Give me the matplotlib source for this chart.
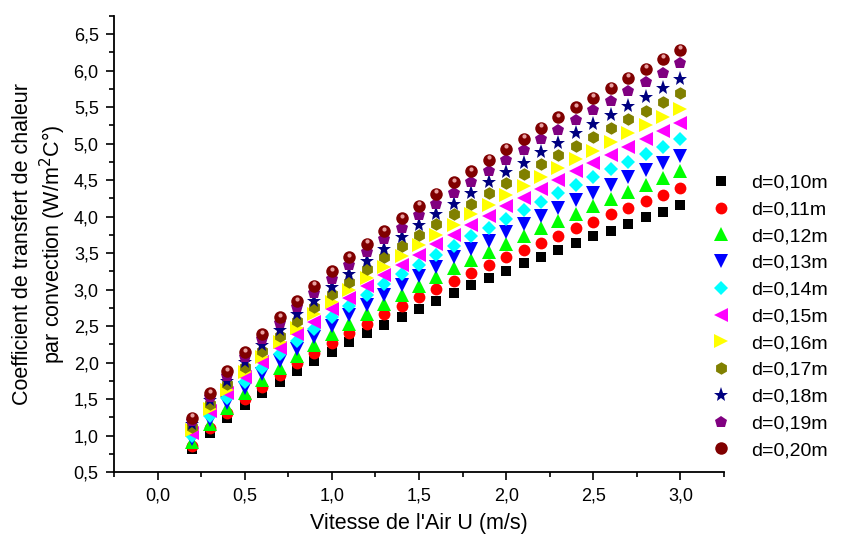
import matplotlib.pyplot as plt
from matplotlib.ticker import MultipleLocator, FuncFormatter

# Vitesse de l'air (m/s)
u = [0.2, 0.3, 0.4, 0.5, 0.6, 0.7, 0.8, 0.9, 1.0, 1.1, 1.2, 1.3, 1.4, 1.5,
     1.6, 1.7, 1.8, 1.9, 2.0, 2.1, 2.2, 2.3, 2.4, 2.5, 2.6, 2.7, 2.8, 2.9, 3.0]

# coefficient h (W/m2C), one list per diameter
h_010 = [0.82, 1.04, 1.24, 1.42, 1.58, 1.74, 1.88, 2.02, 2.15, 2.28, 2.40, 2.52, 2.63, 2.74,
         2.85, 2.96, 3.06, 3.16, 3.26, 3.36, 3.45, 3.54, 3.64, 3.73, 3.81, 3.90, 3.99, 4.07, 4.16]
h_011 = [0.86, 1.10, 1.31, 1.50, 1.67, 1.83, 1.99, 2.13, 2.27, 2.40, 2.53, 2.66, 2.78, 2.90,
         3.01, 3.12, 3.23, 3.34, 3.44, 3.54, 3.64, 3.74, 3.84, 3.93, 4.03, 4.12, 4.21, 4.30, 4.39]
h_012 = [0.91, 1.16, 1.38, 1.58, 1.76, 1.93, 2.09, 2.24, 2.39, 2.53, 2.67, 2.80, 2.92, 3.05,
         3.17, 3.29, 3.40, 3.51, 3.62, 3.73, 3.84, 3.94, 4.04, 4.14, 4.24, 4.34, 4.43, 4.53, 4.62]
h_013 = [0.95, 1.21, 1.44, 1.65, 1.84, 2.02, 2.19, 2.35, 2.50, 2.65, 2.79, 2.93, 3.06, 3.19,
         3.31, 3.44, 3.56, 3.67, 3.79, 3.90, 4.01, 4.12, 4.23, 4.33, 4.44, 4.54, 4.64, 4.74, 4.83]
h_014 = [1.00, 1.27, 1.51, 1.73, 1.93, 2.12, 2.29, 2.46, 2.62, 2.77, 2.92, 3.07, 3.21, 3.34,
         3.47, 3.60, 3.73, 3.85, 3.97, 4.09, 4.20, 4.32, 4.43, 4.54, 4.65, 4.75, 4.86, 4.96, 5.07]
h_015 = [1.04, 1.33, 1.58, 1.80, 2.01, 2.20, 2.39, 2.56, 2.73, 2.89, 3.05, 3.20, 3.34, 3.48,
         3.62, 3.75, 3.88, 4.01, 4.14, 4.26, 4.38, 4.50, 4.62, 4.73, 4.84, 4.95, 5.06, 5.17, 5.28]
h_016 = [1.08, 1.37, 1.63, 1.87, 2.08, 2.28, 2.48, 2.66, 2.83, 3.00, 3.16, 3.31, 3.46, 3.61,
         3.75, 3.89, 4.03, 4.16, 4.29, 4.42, 4.54, 4.66, 4.79, 4.90, 5.02, 5.14, 5.25, 5.36, 5.48]
h_017 = [1.12, 1.43, 1.70, 1.94, 2.16, 2.37, 2.57, 2.76, 2.94, 3.11, 3.28, 3.44, 3.60, 3.75,
         3.90, 4.04, 4.18, 4.32, 4.46, 4.59, 4.72, 4.85, 4.97, 5.09, 5.22, 5.34, 5.45, 5.57, 5.69]
h_018 = [1.16, 1.48, 1.75, 2.01, 2.24, 2.45, 2.66, 2.85, 3.04, 3.22, 3.39, 3.56, 3.72, 3.88,
         4.03, 4.18, 4.33, 4.47, 4.61, 4.74, 4.88, 5.01, 5.14, 5.27, 5.39, 5.52, 5.64, 5.76, 5.89]
h_019 = [1.20, 1.53, 1.82, 2.08, 2.32, 2.54, 2.76, 2.96, 3.15, 3.34, 3.51, 3.69, 3.85, 4.02,
         4.18, 4.33, 4.48, 4.63, 4.77, 4.92, 5.06, 5.19, 5.33, 5.46, 5.59, 5.72, 5.84, 5.97, 6.10]
h_020 = [1.24, 1.58, 1.88, 2.14, 2.39, 2.62, 2.84, 3.05, 3.25, 3.44, 3.63, 3.80, 3.98, 4.15,
         4.31, 4.47, 4.62, 4.78, 4.93, 5.07, 5.22, 5.36, 5.50, 5.63, 5.77, 5.90, 6.03, 6.16, 6.29]

labels = ["d=0,10m", "d=0,11m", "d=0,12m", "d=0,13m", "d=0,14m", "d=0,15m",
          "d=0,16m", "d=0,17m", "d=0,18m", "d=0,19m", "d=0,20m"]
series = [h_010, h_011, h_012, h_013, h_014, h_015, h_016, h_017, h_018, h_019, h_020]

# marker / colour like the Origin default sequence
styles = [("s", "black", 7.5), ("o", "red", 8.5), ("^", "lime", 9.5), ("v", "blue", 9.5),
          ("D", "cyan", 7.5), ("<", "magenta", 9.5), (">", "yellow", 9.5), ("h", "olive", 9),
          ("*", "navy", 11), ("p", "purple", 9), ("o", "maroon", 9)]

plt.rcParams['font.family'] = ['Liberation Sans', 'DejaVu Sans']

fig = plt.figure(figsize=(8.42, 5.36), dpi=100)
ax = fig.add_axes([114 / 842, 1 - 472 / 536, 610 / 842, 456 / 536])

for h, lab, (m, c, ms) in zip(series, labels, styles):
    ax.plot(u, h, linestyle="none", marker=m, color=c, markersize=ms,
            markeredgewidth=0, label=lab)

# little highlight on the dark red balls
ax.plot(u, [v + 0.035 for v in h_020], linestyle="none", marker="o", color="#e8a0a0",
        markersize=3, markeredgewidth=0)

ax.set_xlim(-0.25, 3.25)
ax.set_ylim(0.5, 6.75)
ax.xaxis.set_major_locator(MultipleLocator(0.5))
ax.xaxis.set_minor_locator(MultipleLocator(0.25))
ax.yaxis.set_major_locator(MultipleLocator(0.5))
ax.yaxis.set_minor_locator(MultipleLocator(0.25))
comma = FuncFormatter(lambda v, p: ("%.1f" % v).replace(".", ","))
ax.xaxis.set_major_formatter(comma)
ax.yaxis.set_major_formatter(comma)

for s in ["top", "right"]:
    ax.spines[s].set_visible(False)
for s in ["left", "bottom"]:
    ax.spines[s].set_linewidth(1.3)

ax.tick_params(which="major", direction="out", length=6, width=1.2, labelsize=13, pad=5)
ax.tick_params(which="minor", direction="out", length=3.5, width=1.2)

ax.set_xlabel("Vitesse de l'Air U (m/s)", fontsize=15.5, labelpad=6)
ax.set_ylabel("Coefficient de transfert de chaleur\npar convection (W/m$^2$C°)",
              fontsize=15.5, labelpad=4)

fig.legend(loc="upper left", bbox_to_anchor=(706 / 842, 1 - 174 / 536), frameon=False,
           fontsize=14, labelspacing=0.47, handlelength=1.5, handletextpad=0.8,
           borderpad=0, borderaxespad=0)

fig.savefig("out.png", dpi=100)
